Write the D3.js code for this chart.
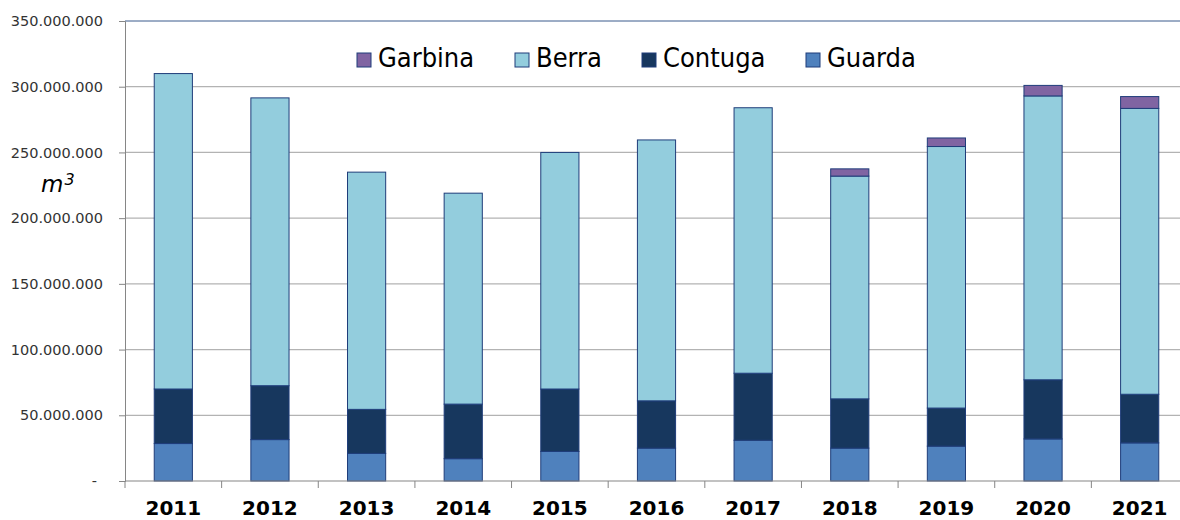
<!DOCTYPE html>
<html>
<head>
<meta charset="utf-8">
<script src="https://cdn.jsdelivr.net/npm/d3@7"></script>
<style>
  body { margin: 0; background: #fff; }
  svg { display: block; font-family: "DejaVu Sans", Verdana, sans-serif; }
</style>
</head>
<body>
<svg id="chart" width="1180" height="520"></svg>
<script>
const years = ['2011', '2012', '2013', '2014', '2015', '2016', '2017', '2018', '2019', '2020', '2021'];
const guarda  = [28500000, 31500000, 21000000, 17000000, 22500000, 25000000, 31000000, 25000000, 26500000, 32000000, 29000000];
const contuga = [41500000, 41000000, 33500000, 41500000, 47500000, 36000000, 51000000, 37500000, 29000000, 45000000, 37000000];
const berra   = [240000000, 219000000, 180500000, 160500000, 180000000, 198500000, 202000000, 169500000, 199000000, 216000000, 217500000];
const garbina = [0, 0, 0, 0, 0, 0, 0, 5500000, 6500000, 8000000, 9000000];
const yTicks = [0, 50000000, 100000000, 150000000, 200000000, 250000000, 300000000, 350000000];

const series = ['Guarda', 'Contuga', 'Berra', 'Garbina'];
const colors = { Guarda: '#4f81bd', Contuga: '#17375e', Berra: '#93cddd', Garbina: '#8064a2' };
const legendOrder = ['Garbina', 'Berra', 'Contuga', 'Guarda'];

const svg = d3.select('#chart');
const plot = { left: 125, right: 1188, top: 21, bottom: 481 };

const data = years.map((y, i) => ({
    year: y, Guarda: guarda[i], Contuga: contuga[i], Berra: berra[i], Garbina: garbina[i]
}));
const stacked = d3.stack().keys(series)(data);

const x = d3.scaleBand().domain(years).range([plot.left, plot.right]);
const y = d3.scaleLinear().domain([0, 350000000]).range([plot.bottom, plot.top]);
const barW = x.bandwidth() * 0.395;

// gridlines
svg.append('g').selectAll('line')
    .data(yTicks.slice(1, -1))
    .join('line')
    .attr('x1', plot.left).attr('x2', 1180)
    .attr('y1', d => y(d)).attr('y2', d => y(d))
    .attr('stroke', '#b3b3b3').attr('stroke-width', 1.2);

// top border
svg.append('line')
    .attr('x1', plot.left).attr('x2', 1180)
    .attr('y1', y(350000000)).attr('y2', y(350000000))
    .attr('stroke', '#3a5a8c').attr('stroke-width', 1);

// y axis
const fmt = v => v === 0 ? '-' : d3.format(',')(v).replace(/,/g, '.');
const yAxis = svg.append('g')
    .attr('transform', `translate(${plot.left},0)`)
    .call(d3.axisLeft(y).tickValues(yTicks).tickSize(6).tickPadding(16).tickFormat(fmt));
yAxis.select('.domain').attr('stroke', '#868686');
yAxis.selectAll('.tick line').attr('stroke', '#868686');
yAxis.selectAll('.tick text')
    .attr('font-size', '14.5px')
    .attr('fill', '#333')
    .attr('font-family', '"DejaVu Sans", Verdana, sans-serif')
    .attr('dx', d => d === 0 ? -6 : 0);

// bars
svg.append('g').selectAll('g')
    .data(stacked)
    .join('g')
    .attr('fill', d => colors[d.key])
    .selectAll('rect')
    .data(d => d.filter(p => p[1] - p[0] > 0))
    .join('rect')
    .attr('x', d => x(d.data.year) + (x.bandwidth() - barW) / 2)
    .attr('y', d => y(d[1]))
    .attr('width', barW)
    .attr('height', d => y(d[0]) - y(d[1]))
    .attr('stroke', '#1f3d7a')
    .attr('stroke-width', 1);

// x axis
svg.append('line')
    .attr('x1', plot.left).attr('x2', 1180)
    .attr('y1', plot.bottom).attr('y2', plot.bottom)
    .attr('stroke', '#868686').attr('stroke-width', 1.2);
svg.append('g').selectAll('line')
    .data(years)
    .join('line')
    .attr('x1', d => x(d)).attr('x2', d => x(d))
    .attr('y1', plot.bottom).attr('y2', plot.bottom + 7)
    .attr('stroke', '#868686');
svg.append('g').selectAll('text')
    .data(years)
    .join('text')
    .attr('x', d => x(d) + x.bandwidth() / 2)
    .attr('y', 515)
    .attr('text-anchor', 'middle')
    .attr('font-size', '20px')
    .attr('font-weight', 'bold')
    .attr('fill', '#000')
    .text(d => d);

// unit label
const unit = svg.append('text')
    .attr('x', 41).attr('y', 192)
    .attr('font-size', '23px')
    .attr('font-style', 'italic')
    .attr('fill', '#000');
unit.append('tspan').text('m');
unit.append('tspan').attr('font-size', '16px').attr('dy', -7).attr('dx', 1).text('3');

// legend
const legendX = { Garbina: 357, Berra: 515, Contuga: 642, Guarda: 806 };
const legend = svg.append('g');
legendOrder.forEach(k => {
    legend.append('rect')
        .attr('x', legendX[k]).attr('y', 53)
        .attr('width', 14).attr('height', 14)
        .attr('fill', colors[k])
        .attr('stroke', '#1f3d7a').attr('stroke-width', 1);
    legend.append('text')
        .attr('x', legendX[k] + 21).attr('y', 67)
        .attr('font-size', '27px')
        .attr('font-family', '"DejaVu Sans Condensed", "DejaVu Sans", sans-serif')
        .attr('fill', '#000')
        .text(k);
});
</script>
</body>
</html>
